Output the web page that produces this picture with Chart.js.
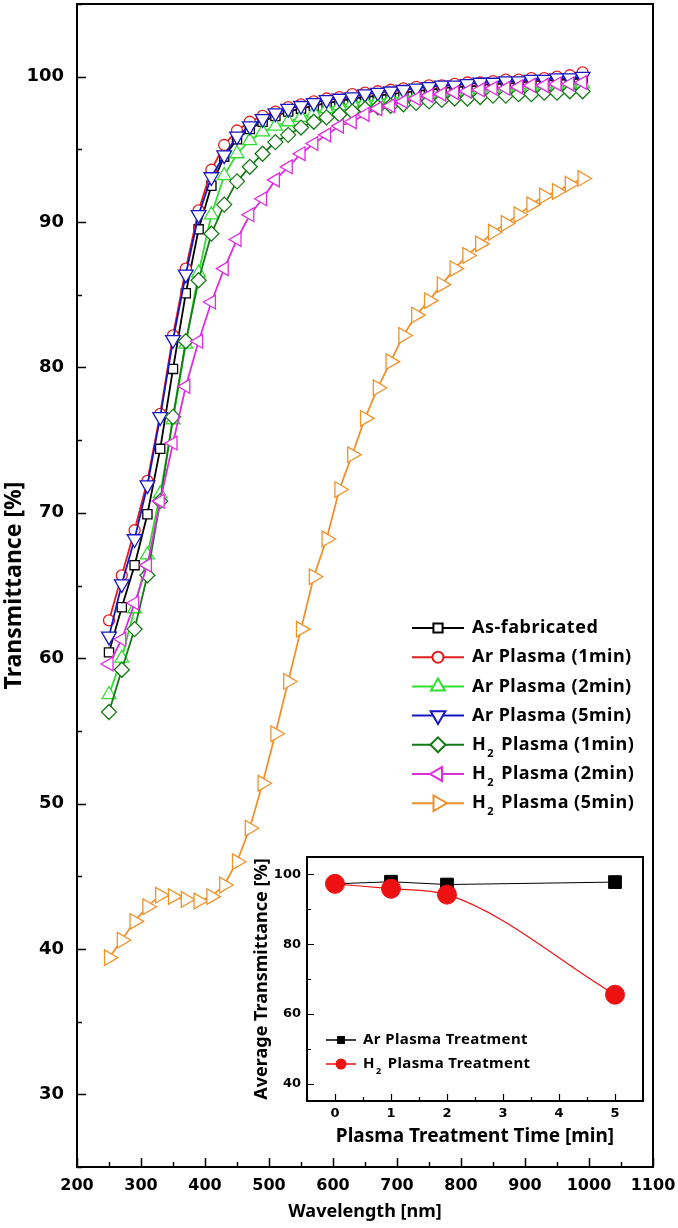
<!DOCTYPE html>
<html>
<head>
<meta charset="utf-8">
<title>Transmittance</title>
<script src="https://cdn.jsdelivr.net/npm/chart.js@4.4.1/dist/chart.umd.min.js"></script>
<style>
  html, body { margin: 0; padding: 0; background: #fff; }
  #wrap { position: relative; width: 678px; height: 1228px; }
  #main { position: absolute; left: 0; top: 0; }
  #inset { position: absolute; left: 236px; top: 845px; }
</style>
</head>
<body>
<div id="wrap">
  <canvas id="main" width="678" height="1228"></canvas>
  <canvas id="inset" width="424" height="305"></canvas>
</div>
<script>
// main spectra, marker every 20 nm
const wavelengthNm = [250, 270, 290, 310, 330, 350, 370, 390, 410, 430, 450, 470, 490, 510, 530, 550, 570, 590, 610, 630,
  650, 670, 690, 710, 730, 750, 770, 790, 810, 830, 850, 870, 890, 910, 930, 950, 970, 990];
const asFabricated = [60.4, 63.5, 66.4, 69.9, 74.4, 79.9, 85.1, 89.5, 92.5, 94.5, 95.7, 96.4, 96.9, 97.3, 97.6, 97.8, 98.0, 98.2, 98.3, 98.5,
  98.6, 98.7, 98.8, 98.9, 99.0, 99.1, 99.2, 99.3, 99.3, 99.4, 99.5, 99.5, 99.6, 99.7, 99.7, 99.8, 99.8, 99.9];
const arPlasma1 = [62.6, 65.7, 68.8, 72.2, 76.8, 82.2, 86.8, 90.8, 93.6, 95.3, 96.3, 96.9, 97.3, 97.6, 97.9, 98.1, 98.3, 98.5, 98.6, 98.8,
  98.9, 99.0, 99.1, 99.2, 99.3, 99.4, 99.4, 99.5, 99.6, 99.6, 99.7, 99.8, 99.8, 99.9, 99.9, 100.0, 100.1, 100.3];
const arPlasma2 = [57.5, 60.0, 63.4, 67.1, 71.3, 76.4, 81.6, 86.5, 90.5, 93.2, 94.7, 95.6, 96.2, 96.6, 96.9, 97.2, 97.5, 97.8, 98.0, 98.2,
  98.3, 98.4, 98.5, 98.6, 98.7, 98.8, 98.8, 98.9, 99.0, 99.0, 99.1, 99.1, 99.2, 99.2, 99.3, 99.3, 99.4, 99.5];
const arPlasma5 = [61.5, 65.1, 68.2, 71.9, 76.6, 81.9, 86.4, 90.5, 93.1, 94.6, 95.9, 96.6, 97.1, 97.5, 97.8, 98.0, 98.2, 98.4, 98.5, 98.6,
  98.8, 98.9, 99.0, 99.1, 99.2, 99.3, 99.4, 99.4, 99.5, 99.6, 99.6, 99.7, 99.7, 99.8, 99.8, 99.9, 99.9, 100.0];
const h2Plasma1 = [56.3, 59.2, 62.0, 65.7, 70.8, 76.6, 81.8, 86.0, 89.2, 91.2, 92.8, 93.8, 94.7, 95.5, 96.0, 96.5, 96.9, 97.2, 97.4, 97.6,
  97.8, 97.9, 98.0, 98.1, 98.2, 98.3, 98.4, 98.5, 98.5, 98.6, 98.7, 98.7, 98.8, 98.8, 98.9, 98.9, 99.0, 99.0];
const h2Plasma2 = [59.6, 61.3, 63.8, 66.4, 70.8, 74.8, 78.7, 81.8, 84.5, 86.8, 88.8, 90.5, 91.6, 92.9, 93.8, 94.7, 95.4, 96.0, 96.6, 96.9,
  97.4, 97.8, 98.0, 98.3, 98.5, 98.7, 98.8, 98.9, 99.0, 99.1, 99.2, 99.2, 99.3, 99.4, 99.4, 99.5, 99.5, 99.6];
const h2Plasma5 = [39.4, 40.6, 41.9, 42.9, 43.7, 43.6, 43.4, 43.3, 43.6, 44.4, 46.0, 48.3, 51.4, 54.8, 58.4, 62.0, 65.6, 68.2, 71.6, 74.0,
  76.5, 78.6, 80.4, 82.2, 83.6, 84.6, 85.7, 86.8, 87.7, 88.5, 89.3, 89.9, 90.5, 91.2, 91.8, 92.1, 92.6, 93.0];
const seriesNames = ['As-fabricated', 'Ar Plasma (1min)', 'Ar Plasma (2min)', 'Ar Plasma (5min)',
  'H₂ Plasma (1min)', 'H₂ Plasma (2min)', 'H₂ Plasma (5min)'];
const xTicksNm = [200, 300, 400, 500, 600, 700, 800, 900, 1000, 1100];
const yTicksPct = [30, 40, 50, 60, 70, 80, 90, 100];

// inset: average transmittance vs treatment time
const treatTimeMin = [0, 1, 2, 5];
const arAverage = [97.3, 97.9, 97.1, 97.8];
const h2Average = [97.3, 95.9, 94.2, 65.5];
const insetNames = ['Ar Plasma Treatment', 'H₂ Plasma Treatment'];
const insetXTicks = [0, 1, 2, 3, 4, 5];
const insetYTicks = [40, 60, 80, 100];

const FONT = '"Noto Sans", "DejaVu Sans", sans-serif';
const NUMFONT = '"DejaVu Sans", sans-serif';

function pts(xs, ys) {
  return xs.map(function(x, i) { return { x: x, y: ys[i] }; });
}

// text with a subscript 2
function drawRich(ctx, text, x, y, size, spacing) {
  var parts = text.split('₂');
  var cx = x;
  ctx.letterSpacing = spacing + 'px';
  parts.forEach(function(p, i) {
    if (i > 0) {
      ctx.font = 'bold ' + Math.round(size * 0.6) + 'px ' + FONT;
      ctx.fillText('2', cx + 1, y + size * 0.5);
      cx += ctx.measureText('2').width + 3;
    }
    ctx.font = 'bold ' + size + 'px ' + FONT;
    ctx.fillText(p, cx, y);
    cx += ctx.measureText(p).width;
  });
  ctx.letterSpacing = '0px';
}

// box frame plus inward ticks on bottom and left
var frameTicks = {
  id: 'frameTicks',
  afterDraw: function(chart, args, o) {
    var ctx = chart.ctx, a = chart.chartArea;
    var xs = chart.scales.x, ys = chart.scales.y;
    ctx.save();
    ctx.strokeStyle = '#000';
    ctx.lineWidth = o.tickWidth;
    ctx.beginPath();
    var v, n, i, px, major;
    n = Math.round((xs.max - xs.min) / o.xMinor);
    for (i = 0; i <= n; i++) {
      v = xs.min + i * o.xMinor;
      major = Math.abs(v / o.xMajor - Math.round(v / o.xMajor)) < 1e-6;
      px = Math.round(xs.getPixelForValue(v)) + 0.5;
      ctx.moveTo(px, a.bottom);
      ctx.lineTo(px, a.bottom - (major ? o.major : o.minor));
    }
    var y0 = Math.ceil(ys.min / o.yMinor) * o.yMinor;
    for (v = y0; v <= ys.max + 1e-9; v += o.yMinor) {
      major = Math.abs(v / o.yMajor - Math.round(v / o.yMajor)) < 1e-6;
      px = Math.round(ys.getPixelForValue(v)) + 0.5;
      ctx.moveTo(a.left, px);
      ctx.lineTo(a.left + (major ? o.major : o.minor), px);
    }
    ctx.stroke();
    ctx.lineWidth = o.frameWidth;
    ctx.strokeRect(a.left, a.top, a.right - a.left, a.bottom - a.top);
    ctx.restore();
  }
};

// legend drawn inside the plot: line + marker + label
var seriesKey = {
  id: 'seriesKey',
  afterDraw: function(chart, args, o) {
    var ctx = chart.ctx;
    ctx.save();
    ctx.textBaseline = 'middle';
    ctx.textAlign = 'left';
    chart.data.datasets.forEach(function(ds, i) {
      var y = o.top + i * o.rowGap;
      ctx.strokeStyle = ds.borderColor;
      ctx.lineWidth = o.lineWidth;
      ctx.beginPath();
      ctx.moveTo(o.left, y);
      ctx.lineTo(o.left + o.lineLen, y);
      ctx.stroke();
      ctx.fillStyle = ds.pointBackgroundColor;
      ctx.strokeStyle = ds.pointBorderColor;
      Chart.helpers.drawPoint(ctx, {
        pointStyle: ds.pointStyle,
        rotation: ds.pointRotation || 0,
        radius: ds.pointRadius * o.pointScale,
        borderWidth: ds.pointBorderWidth
      }, o.left + o.lineLen / 2, y);
      ctx.fillStyle = '#000';
      drawRich(ctx, ds.label, o.left + o.lineLen + o.textGap, y, o.fontSize, o.spacing);
    });
    ctx.restore();
  }
};

function fixBox(w, h) {
  return function(scale) {
    if (w !== null) scale.width = w;
    if (h !== null) scale.height = h;
    scale.paddingLeft = 0; scale.paddingRight = 0;
    scale.paddingTop = 0; scale.paddingBottom = 0;
  };
}

function setTicks(list) {
  return function(scale) {
    scale.ticks = list.map(function(v) { return { value: v }; });
  };
}

function plain(v) { return String(v); }

var looks = [
  { color: '#000000', style: 'rect', r: 6.5, rot: 0 },
  { color: '#e21d1d', style: 'circle', r: 5.5, rot: 0 },
  { color: '#2ede2e', style: 'triangle', r: 8, rot: 0 },
  { color: '#1616c4', style: 'triangle', r: 8.5, rot: 180 },
  { color: '#157a15', style: 'rectRot', r: 7.5, rot: 0 },
  { color: '#e02ce0', style: 'triangle', r: 8, rot: 270 },
  { color: '#f0922c', style: 'triangle', r: 9, rot: 90 }
];
var seriesValues = [asFabricated, arPlasma1, arPlasma2, arPlasma5, h2Plasma1, h2Plasma2, h2Plasma5];

var mainSets = seriesValues.map(function(vals, i) {
  var lk = looks[i];
  return {
    label: seriesNames[i],
    data: pts(wavelengthNm, vals),
    borderColor: lk.color,
    backgroundColor: lk.color,
    borderWidth: 1.8,
    pointStyle: lk.style,
    pointRotation: lk.rot,
    pointRadius: lk.r,
    pointBackgroundColor: '#ffffff',
    pointBorderColor: lk.color,
    pointBorderWidth: 1.3,
    tension: 0,
    order: 10 - i
  };
});

new Chart(document.getElementById('main'), {
  type: 'line',
  data: { datasets: mainSets },
  options: {
    responsive: false,
    animation: false,
    devicePixelRatio: 1,
    layout: { autoPadding: false, padding: { top: 4, right: 25, left: 0, bottom: 0 } },
    plugins: {
      legend: { display: false },
      tooltip: { enabled: false },
      frameTicks: { xMajor: 100, xMinor: 50, yMajor: 10, yMinor: 5, major: 9, minor: 5, tickWidth: 1.5, frameWidth: 2 },
      seriesKey: { left: 412, top: 628, rowGap: 29.2, lineLen: 52, textGap: 8, lineWidth: 2, pointScale: 1, fontSize: 18, spacing: 0.5 }
    },
    scales: {
      x: {
        type: 'linear', min: 200, max: 1100,
        afterBuildTicks: setTicks(xTicksNm),
        afterFit: fixBox(null, 61),
        grid: { display: false, drawTicks: false },
        border: { display: false },
        ticks: { color: '#000', padding: 9, maxRotation: 0, callback: plain, font: { family: NUMFONT, size: 16, weight: 'bold' } },
        title: { display: true, text: 'Wavelength [nm]', color: '#000', padding: { top: 0, bottom: 5 },
          font: { family: FONT, size: 18, weight: 'bold' } }
      },
      y: {
        type: 'linear', min: 25, max: 105,
        afterBuildTicks: setTicks(yTicksPct),
        afterFit: fixBox(77, null),
        grid: { display: false, drawTicks: false },
        border: { display: false },
        ticks: { color: '#000', padding: 13, callback: plain, font: { family: NUMFONT, size: 18, weight: 'bold' } },
        title: { display: true, text: 'Transmittance [%]', color: '#000', padding: { top: 1, bottom: 0 },
          font: { family: FONT, size: 23, weight: 'bold' } }
      }
    }
  },
  plugins: [frameTicks, seriesKey]
});

new Chart(document.getElementById('inset'), {
  type: 'line',
  data: {
    datasets: [
      {
        label: insetNames[0],
        data: pts(treatTimeMin, arAverage),
        borderColor: '#000000',
        borderWidth: 1,
        pointStyle: 'rect',
        pointRadius: 9,
        pointBackgroundColor: '#000000',
        pointBorderColor: '#000000',
        pointBorderWidth: 1,
        tension: 0,
        order: 2
      },
      {
        label: insetNames[1],
        data: pts(treatTimeMin, h2Average),
        borderColor: '#ee1111',
        borderWidth: 1.2,
        pointStyle: 'circle',
        pointRadius: 9.5,
        pointBackgroundColor: '#ee1111',
        pointBorderColor: '#ee1111',
        pointBorderWidth: 1,
        tension: 0.4,
        cubicInterpolationMode: 'monotone',
        order: 1
      }
    ]
  },
  options: {
    responsive: false,
    animation: false,
    devicePixelRatio: 1,
    layout: { autoPadding: false, padding: { top: 12, right: 17, left: 0, bottom: 0 } },
    plugins: {
      legend: { display: false },
      tooltip: { enabled: false },
      frameTicks: { xMajor: 1, xMinor: 0.5, yMajor: 20, yMinor: 10, major: 7, minor: 4, tickWidth: 1.2, frameWidth: 2 },
      seriesKey: { left: 90, top: 195, rowGap: 24, lineLen: 30, textGap: 7, lineWidth: 1.5, pointScale: 0.5, fontSize: 15, spacing: 0.4 }
    },
    scales: {
      x: {
        type: 'linear', min: -0.5, max: 5.5,
        afterBuildTicks: setTicks(insetXTicks),
        afterFit: fixBox(null, 49),
        grid: { display: false, drawTicks: false },
        border: { display: false },
        ticks: { color: '#000', padding: 5, maxRotation: 0, callback: plain, font: { family: NUMFONT, size: 13, weight: 'bold' } },
        title: { display: true, text: 'Plasma Treatment Time [min]', color: '#000', padding: { top: 0, bottom: 2 },
          font: { family: FONT, size: 19, weight: 'bold' } }
      },
      y: {
        type: 'linear', min: 35, max: 105,
        afterBuildTicks: setTicks(insetYTicks),
        afterFit: fixBox(71, null),
        grid: { display: false, drawTicks: false },
        border: { display: false },
        ticks: { color: '#000', padding: 6, callback: plain, font: { family: NUMFONT, size: 13, weight: 'bold' } },
        title: { display: true, text: 'Average Transmittance [%]', color: '#000', padding: { top: 15, bottom: 0 },
          font: { family: FONT, size: 18, weight: 'bold' } }
      }
    }
  },
  plugins: [frameTicks, seriesKey]
});
</script>
</body>
</html>
